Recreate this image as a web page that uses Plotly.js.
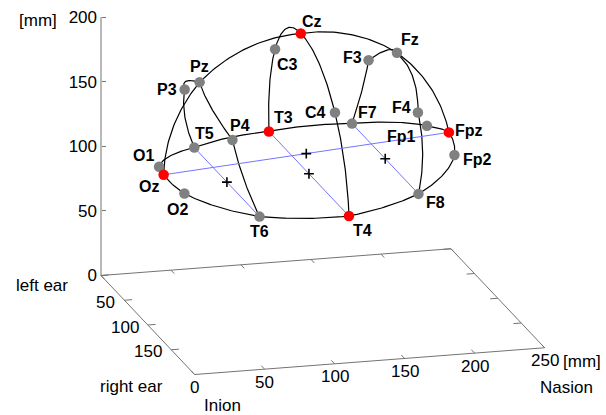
<!DOCTYPE html>
<html>
<head>
<meta charset="utf-8">
<script src="https://cdn.plot.ly/plotly-3.0.1.min.js"></script>
<style>
  html, body { margin: 0; padding: 0; background: #ffffff; }
  #plot { width: 606px; height: 415px; }
</style>
</head>
<body>
<div id="plot"></div>
<script>
// 10-20 electrode positions on the head [mm]
const names = ['Fpz','Fp1','Fp2','F7','F3','Fz','F4','F8','T3','C3','Cz','C4','T4','T5','P3','Pz','P4','T6','O1','Oz','O2'];
const posX  = [215.1,209.2,209.2,169.6,175.3,178.0,175.3,169.6,115.1,112.3,109.3,112.3,115.1, 56.5, 43.4, 37.0, 43.4, 56.5, 17.1, 11.3, 17.1];
const posY  = [100.0, 70.6,129.4, 29.0, 47.3,100.0,152.7,171.0, 14.5, 36.0,100.0,164.0,185.5, 30.3, 49.0,100.0,151.0,169.7, 72.9,100.0,127.1];
const posZ  = [131.2,125.5,125.5,114.6,170.1,195.9,170.1,114.6,107.5,179.6,216.5,179.6,107.5,105.9,159.1,184.7,159.1,105.9,110.7,115.3,110.7];

// reference electrodes drawn in red
const landmarks = ['Fpz','T3','Cz','T4','Oz'];

// electrode chains drawn along the scalp
const scalpLines = [
  ['Oz','O1','T5','T3','F7','Fp1','Fpz','Fp2','F8','T4','T6','O2','Oz'],
  ['Oz','Pz','Cz','Fz','Fpz'],
  ['T5','P3','Pz','P4','T6'],
  ['T3','C3','Cz','C4','T4'],
  ['F7','F3','Fz','F4','F8']
];
// straight chords through the head, midpoint marked with "+"
const chords = [['Oz','Fpz'],['T5','T6'],['T3','T4'],['F7','F8']];

// head ellipsoid used to follow the scalp between electrodes [mm]
const headCenter = [113, 100, 108];
const headRadii  = [103, 86, 109];

// axes [mm]
const xLim = [0, 250], yLim = [0, 200], zLim = [0, 200];
const xTicks = [0, 50, 100, 150, 200, 250];
const yTicks = [0, 50, 100, 150];
const zTicks = [0, 50, 100, 150, 200];

// orthographic view
const azimuth = 15.05, elevation = 16.52;       // degrees
const boxAspect = [1, 0.995, 0.744];            // plot box proportions x:y:z
const W = 606, H = 415;
const pxPerUnit = 362.4;                        // box units -> pixels
const originPx = [101, 275.5];                  // pixel position of the (0,0,0) corner

const FONT = 'Liberation Sans, Arial, sans-serif';
const AXIS_GREY = '#737373';

const TH = azimuth * Math.PI / 180, EL = elevation * Math.PI / 180;
function project(x, y, z) {
  const X = (x - xLim[0]) / (xLim[1] - xLim[0]) * boxAspect[0];
  const Y = (y - yLim[0]) / (yLim[1] - yLim[0]) * boxAspect[1];
  const Z = (z - zLim[0]) / (zLim[1] - zLim[0]) * boxAspect[2];
  return [X * Math.cos(TH) + Y * Math.sin(TH),
          X * Math.sin(TH) * Math.sin(EL) - Y * Math.cos(TH) * Math.sin(EL) + Z * Math.cos(EL)];
}

const idx = {};
names.forEach((n, i) => { idx[n] = i; });
const P = n => [posX[idx[n]], posY[idx[n]], posZ[idx[n]]];

// path over the ellipsoid surface between two electrodes
function scalpPath(a, b, steps) {
  const u = [0,1,2].map(k => (a[k] - headCenter[k]) / headRadii[k]);
  const v = [0,1,2].map(k => (b[k] - headCenter[k]) / headRadii[k]);
  const ru = Math.hypot(...u), rv = Math.hypot(...v);
  const un = u.map(c => c / ru), vn = v.map(c => c / rv);
  let d = un[0]*vn[0] + un[1]*vn[1] + un[2]*vn[2];
  d = Math.max(-1, Math.min(1, d));
  const om = Math.acos(d), s = Math.sin(om);
  const out = [];
  for (let i = 0; i <= steps; i++) {
    const t = i / steps;
    const w1 = s < 1e-6 ? 1 - t : Math.sin((1 - t) * om) / s;
    const w2 = s < 1e-6 ? t : Math.sin(t * om) / s;
    const r = ru + (rv - ru) * t;
    out.push([0,1,2].map(k => headCenter[k] + headRadii[k] * r * (w1 * un[k] + w2 * vn[k])));
  }
  return out;
}

// polyline helper: list of 3D segments -> projected x/y with gaps
function polyline(segments) {
  const xs = [], ys = [];
  segments.forEach(seg => {
    seg.forEach(p => { const q = project(p[0], p[1], p[2]); xs.push(q[0]); ys.push(q[1]); });
    xs.push(null); ys.push(null);
  });
  return {xs, ys};
}

const traces = [];

// box floor and vertical axis
const floorSegs = [
  [[xLim[0], yLim[0], zLim[0]], [xLim[1], yLim[0], zLim[0]], [xLim[1], yLim[1], zLim[0]],
   [xLim[0], yLim[1], zLim[0]], [xLim[0], yLim[0], zLim[0]]],
  [[xLim[0], yLim[0], zLim[0]], [xLim[0], yLim[0], zLim[1]]]
];
// tick marks on the floor edges, pointing into the box
const tx = 0.035 * (yLim[1] - yLim[0]), ty = 0.022 * (xLim[1] - xLim[0]);
xTicks.forEach(v => {
  floorSegs.push([[v, yLim[1], 0], [v, yLim[1] - tx, 0]]);
  floorSegs.push([[v, yLim[0], 0], [v, yLim[0] + tx, 0]]);
});
yTicks.forEach(v => {
  floorSegs.push([[xLim[0], v, 0], [xLim[0] + ty, v, 0]]);
  floorSegs.push([[xLim[1], v, 0], [xLim[1] - ty, v, 0]]);
});
const fr = polyline(floorSegs);
traces.push({type: 'scatter', mode: 'lines', x: fr.xs, y: fr.ys,
  line: {color: AXIS_GREY, width: 1}, hoverinfo: 'skip'});

// scalp lines
const scalpSegs = scalpLines.map(chain => {
  const pts = [];
  for (let i = 0; i < chain.length - 1; i++) {
    scalpPath(P(chain[i]), P(chain[i + 1]), 40).forEach((p, j) => {
      if (i > 0 && j === 0) return;
      pts.push(p);
    });
  }
  return pts;
});
const sc = polyline(scalpSegs);
traces.push({type: 'scatter', mode: 'lines', x: sc.xs, y: sc.ys,
  line: {color: '#000000', width: 1.2}, hoverinfo: 'skip'});

// chords and their midpoints
const chordSegs = chords.map(([a, b]) => [P(a), P(b)]);
const cr = polyline(chordSegs);
traces.push({type: 'scatter', mode: 'lines', x: cr.xs, y: cr.ys,
  line: {color: '#7474ff', width: 1}, hoverinfo: 'skip'});
const mids = chordSegs.map(([a, b]) => project((a[0] + b[0]) / 2, (a[1] + b[1]) / 2, (a[2] + b[2]) / 2));
traces.push({type: 'scatter', mode: 'markers', x: mids.map(m => m[0]), y: mids.map(m => m[1]),
  marker: {symbol: 'cross-thin', size: 7, line: {width: 1.6, color: '#000'}},
  cliponaxis: false, hoverinfo: 'skip'});

// electrodes
const ep = names.map((n, i) => project(posX[i], posY[i], posZ[i]));
traces.push({type: 'scatter', mode: 'markers', x: ep.map(p => p[0]), y: ep.map(p => p[1]),
  marker: {size: 10.5, color: names.map(n => landmarks.includes(n) ? '#ff0000' : '#808080'), line: {width: 0}},
  text: names, hoverinfo: 'text', cliponaxis: false});

// electrode label offsets in pixels (right, down)
const labelOffset = {
  Cz:[11,-12], C3:[12,15], Pz:[0,-16], P3:[-18,0], T5:[10,-14], P4:[8,-14], T3:[15,-14],
  O1:[-16,-11], Oz:[-15,12], O2:[-7,16], T6:[0,15], T4:[14,14], C4:[-19,0], F7:[15,-11],
  F3:[-16,-3], Fz:[13,-13], F4:[-16,-5], Fp1:[-25,11], Fpz:[20,-2], Fp2:[23,5], F8:[17,9]
};
const annotations = names.map((n, i) => ({
  x: ep[i][0], y: ep[i][1], xref: 'x', yref: 'y', text: '<b>' + n + '</b>', showarrow: false,
  xshift: labelOffset[n][0], yshift: -labelOffset[n][1],
  font: {family: FONT, size: 16, color: '#000'}
}));

const tickFont = {family: FONT, size: 17, color: '#000'};

// x tick labels along the front floor edge
xTicks.forEach(v => {
  const q = project(v, yLim[1], 0);
  annotations.push({x: q[0], y: q[1], xref: 'x', yref: 'y', text: String(v), showarrow: false,
    yshift: -13, font: tickFont});
});
// y tick labels along the left floor edge (the shared corner label comes from the vertical axis)
yTicks.filter(v => v !== yLim[0]).forEach(v => {
  const q = project(xLim[0], v, 0);
  annotations.push({x: q[0], y: q[1], xref: 'x', yref: 'y', text: String(v), showarrow: false,
    xanchor: 'right', xshift: -7, yshift: -2, font: tickFont});
});

// axis captions
[
  {at: [xLim[0], yLim[0], 0], text: 'left ear', dx: -59, dy: 9.5},
  {at: [xLim[0], yLim[1], 0], text: 'right ear', dx: -63, dy: 11.5},
  {at: [xLim[0], yLim[1], 0], text: 'Inion', dx: 28, dy: 30.5},
  {at: [xLim[1], yLim[1], 0], text: 'Nasion', dx: 22, dy: 40},
  {at: [xLim[1], yLim[1], 0], text: '[mm]', dx: 37, dy: 14},
  {at: [xLim[0], yLim[0], zLim[1]], text: '[mm]', dx: -63, dy: 3.5}
].forEach(c => {
  const q = project(c.at[0], c.at[1], c.at[2]);
  annotations.push({x: q[0], y: q[1], xref: 'x', yref: 'y', text: c.text, showarrow: false,
    xshift: c.dx, yshift: -c.dy, font: tickFont});
});

const layout = {
  width: W, height: H,
  margin: {l: 0, r: 0, t: 0, b: 0},
  paper_bgcolor: '#ffffff', plot_bgcolor: 'rgba(0,0,0,0)',
  showlegend: false,
  xaxis: {range: [-originPx[0] / pxPerUnit, (W - originPx[0]) / pxPerUnit], visible: false, fixedrange: true},
  // vertical axis of the box, drawn at the back-left corner
  yaxis: {
    range: [(originPx[1] - H) / pxPerUnit, originPx[1] / pxPerUnit],
    anchor: 'free', position: originPx[0] / W,
    tickmode: 'array', tickvals: zTicks.map(z => project(xLim[0], yLim[0], z)[1]), ticktext: zTicks.map(String),
    ticks: 'inside', ticklen: 4, tickcolor: AXIS_GREY, tickwidth: 1,
    showline: false, showgrid: false, zeroline: false, fixedrange: true,
    ticklabelstandoff: 4, tickfont: tickFont
  },
  annotations: annotations
};

Plotly.newPlot('plot', traces, layout, {displayModeBar: false, staticPlot: true});
</script>
</body>
</html>
